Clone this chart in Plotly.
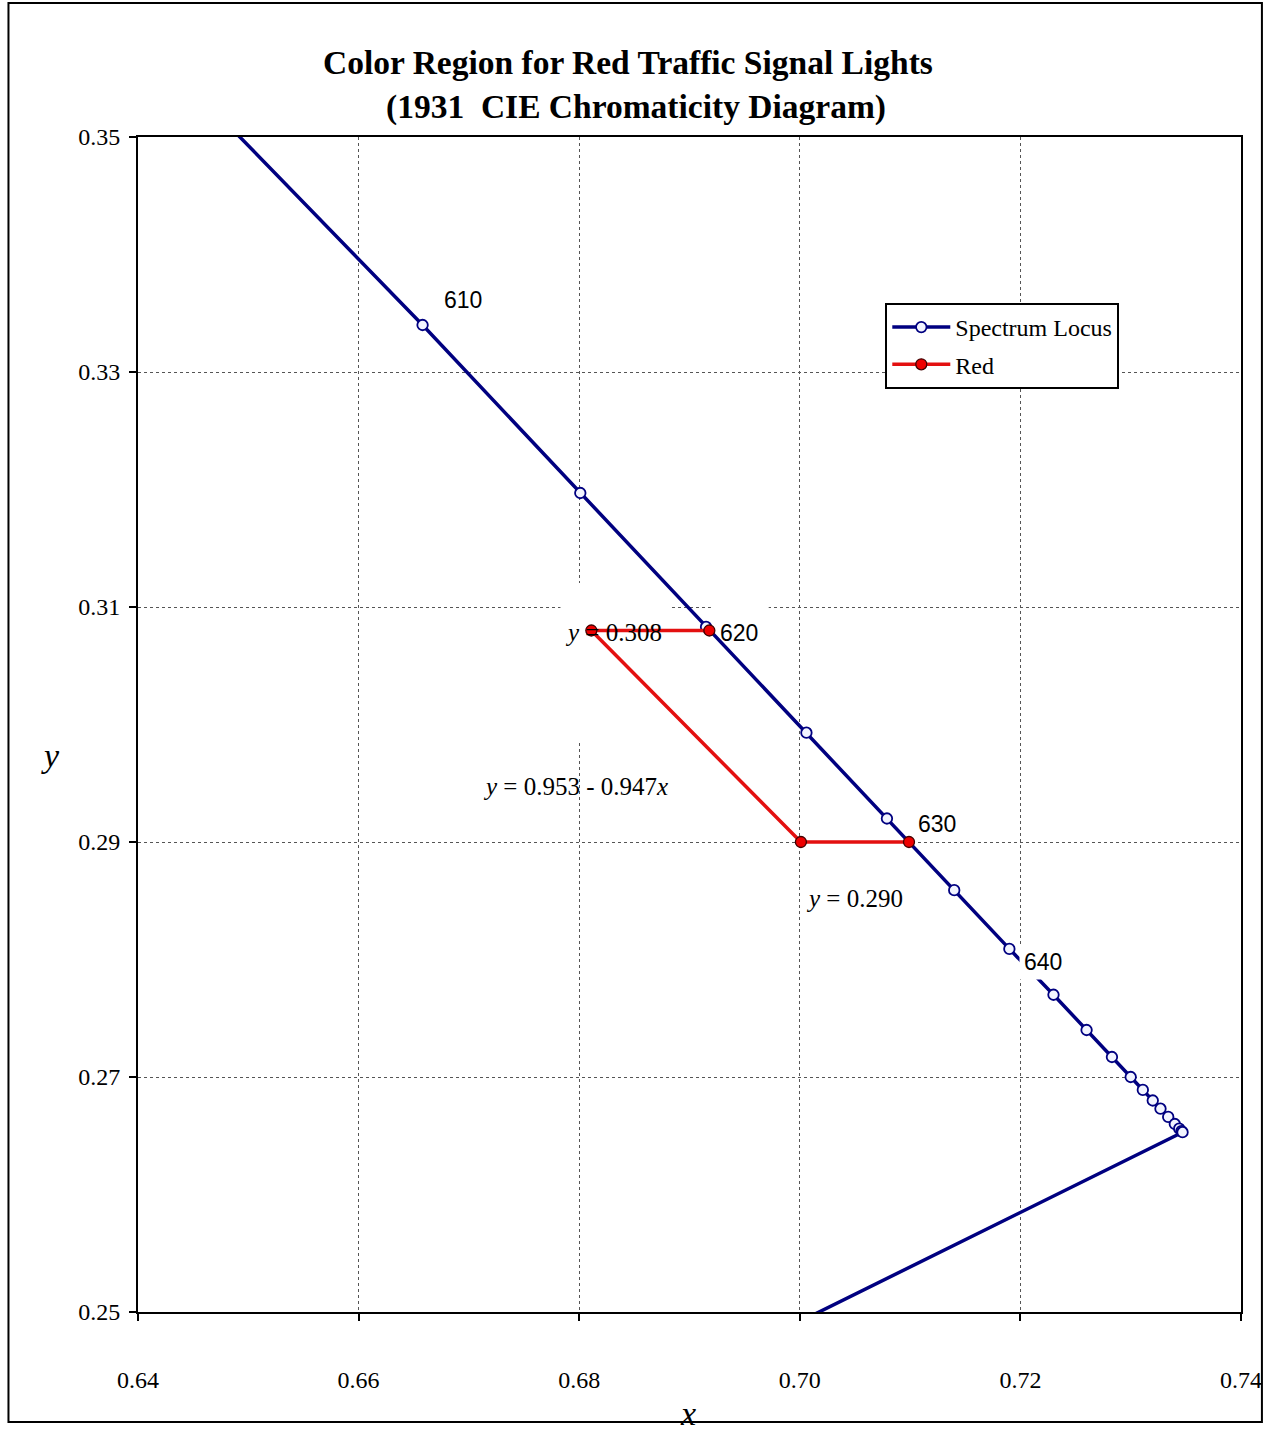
import plotly.graph_objects as go

# Spectrum locus (CIE 1931 2°), 5 nm steps, plus 380 nm end of the line of purples
wavelengths = [600, 605, 610, 615, 620, 625, 630, 635, 640, 645, 650, 655, 660,
               665, 670, 675, 680, 685, 690, 695, 700, 380]
locus_x = [0.6270, 0.6482, 0.6658, 0.6801, 0.6915, 0.7006, 0.7079, 0.7140, 0.7190,
           0.7230, 0.7260, 0.7283, 0.7300, 0.7311, 0.7320, 0.7327, 0.7334, 0.7340,
           0.7344, 0.7346, 0.7347, 0.1741]
locus_y = [0.3725, 0.3510, 0.3340, 0.3197, 0.3083, 0.2993, 0.2920, 0.2859, 0.2809,
           0.2770, 0.2740, 0.2717, 0.2700, 0.2689, 0.2680, 0.2673, 0.2666, 0.2660,
           0.2656, 0.2654, 0.2653, 0.0050]

# Red signal region boundary
red_x = [0.6918, 0.6811, 0.7001, 0.7099]
red_y = [0.308, 0.308, 0.290, 0.290]

x_ticks = [0.64, 0.66, 0.68, 0.70, 0.72, 0.74]
x_tick_text = ["0.64", "0.66", "0.68", "0.70", "0.72", "0.74"]
y_ticks = [0.25, 0.27, 0.29, 0.31, 0.33, 0.35]
y_tick_text = ["0.25", "0.27", "0.29", "0.31", "0.33", "0.35"]

SERIF = "Liberation Serif, Times New Roman, serif"
SANS = "Liberation Sans, Arial, sans-serif"
NAVY = "#000080"
RED = "#e31010"

fig = go.Figure()
fig.add_trace(go.Scatter(
    x=locus_x, y=locus_y, mode="lines+markers", name="Spectrum Locus", legendgroup="a",
    line=dict(color=NAVY, width=3.5),
    marker=dict(symbol="circle", size=10.5, color="#f2f4ff", line=dict(color=NAVY, width=1.8)),
))
fig.add_trace(go.Scatter(
    x=red_x, y=red_y, mode="lines+markers", name="Red", legendgroup="b",
    line=dict(color=RED, width=3.5),
    marker=dict(symbol="circle", size=11, color="#ee0000", line=dict(color="#400000", width=1.3)),
))

axis_common = dict(
    showline=True, linecolor="black", linewidth=2, mirror=True,
    ticks="outside", ticklen=7, tickcolor="black", tickwidth=1.5,
    showgrid=True, gridcolor="#555555", gridwidth=1, griddash="dot",
    zeroline=False, tickfont=dict(family=SERIF, size=24, color="black"),
)
fig.update_xaxes(range=[0.64, 0.74], tickvals=x_ticks, ticktext=x_tick_text,
                 ticklabelstandoff=38, **axis_common)
fig.update_yaxes(range=[0.25, 0.35], tickvals=y_ticks, ticktext=y_tick_text,
                 ticklabelstandoff=4, **axis_common)

annotations = [
    dict(text="<b>Color Region for Red Traffic Signal Lights</b>", xref="paper", yref="paper",
         x=(630 - 138) / 1107, y=(1312 - 62) / 1175, showarrow=False,
         font=dict(family=SERIF, size=33.5, color="black"), xanchor="center", yanchor="middle"),
    dict(text="<b>(1931  CIE Chromaticity Diagram)</b>", xref="paper", yref="paper",
         x=(638 - 138) / 1107, y=(1312 - 107) / 1175, showarrow=False,
         font=dict(family=SERIF, size=33.5, color="black"), xanchor="center", yanchor="middle"),
    dict(text="<i>x</i>", xref="paper", yref="paper", x=(690 - 138) / 1107, y=(1312 - 1413) / 1175,
         showarrow=False, font=dict(family=SERIF, size=34, color="black"),
         xanchor="center", yanchor="middle"),
    dict(text="<i>y</i>", xref="paper", yref="paper", x=(50 - 138) / 1107, y=(1312 - 755) / 1175,
         showarrow=False, font=dict(family=SERIF, size=34, color="black"),
         xanchor="center", yanchor="middle"),
    dict(text="610", x=0.6695, y=0.3361, showarrow=False,
         font=dict(family=SANS, size=23, color="black")),
    dict(text="620", x=0.6926, y=0.3078, showarrow=False, xanchor="left",
         font=dict(family=SANS, size=23, color="black")),
    dict(text="630", x=0.7105, y=0.2915, showarrow=False, xanchor="left",
         font=dict(family=SANS, size=23, color="black")),
    dict(text="640", x=0.7199, y=0.2798, showarrow=False, xanchor="left",
         bgcolor="white", borderpad=4,
         font=dict(family=SANS, size=23, color="black")),
    dict(text="<i>y</i> = 0.308", x=0.6831, y=0.3078, showarrow=False,
         font=dict(family=SERIF, size=25, color="black")),
    dict(text="<i>y</i> = 0.953 - 0.947<i>x</i>", x=0.6797, y=0.2947, showarrow=False,
         font=dict(family=SERIF, size=25, color="black")),
    dict(text="<i>y</i> = 0.290", x=0.7050, y=0.2852, showarrow=False,
         font=dict(family=SERIF, size=25, color="black")),
]
fig.update_layout(annotations=annotations)

def px2x(p):
    return 0.64 + (p - 138) / 11070

def px2y(p):
    return 0.25 + (1312 - p) / 11750

shapes = [
    # white label backgrounds hiding gridlines
    dict(type="rect", xref="x", yref="y", x0=px2x(562), x1=px2x(673), y0=px2y(650), y1=px2y(583),
         fillcolor="white", line=dict(width=0), layer="between"),
    dict(type="rect", xref="x", yref="y", x0=px2x(713), x1=px2x(771), y0=px2y(650), y1=px2y(595),
         fillcolor="white", line=dict(width=0), layer="between"),
    dict(type="rect", xref="x", yref="y", x0=px2x(570), x1=px2x(590), y0=px2y(740), y1=px2y(583),
         fillcolor="white", line=dict(width=0), layer="between"),
    # outer frame
    dict(type="rect", xref="paper", yref="paper",
         x0=(8 - 138) / 1107, x1=(1266 - 138) / 1107,
         y0=(1312 - 1422) / 1175, y1=(1312 - 3) / 1175,
         line=dict(color="black", width=2), fillcolor="rgba(0,0,0,0)", layer="above"),
]
fig.update_layout(shapes=shapes)

fig.update_layout(
    width=1274, height=1431,
    margin=dict(l=138, r=29, t=137, b=119),
    paper_bgcolor="white", plot_bgcolor="white",
    showlegend=True,
    legend=dict(x=(888 - 138) / 1107, y=(1312 - 303) / 1175, xanchor="left", yanchor="top",
                bgcolor="white", bordercolor="black", borderwidth=2,
                font=dict(family=SERIF, size=24, color="black"),
                itemwidth=58, tracegroupgap=3),
    font=dict(family=SERIF, color="black"),
)

fig.write_html("out.html", config={"displayModeBar": False},
               post_script="document.body.style.margin='0';")
